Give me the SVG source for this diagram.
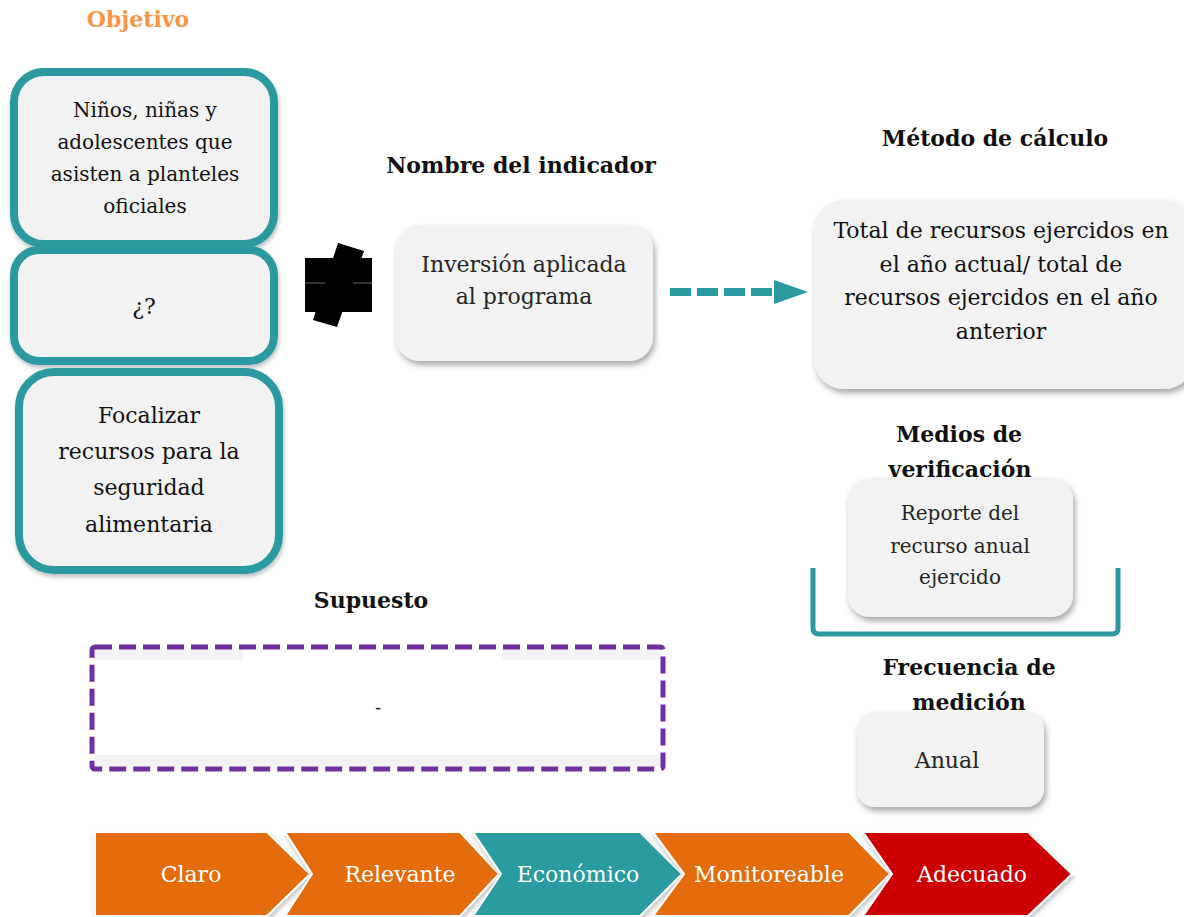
<svg xmlns="http://www.w3.org/2000/svg" width="1184" height="917" viewBox="0 0 1184 917">
<defs>
<filter id="sh" x="-10%" y="-10%" width="130%" height="140%">
<feDropShadow dx="2" dy="4" stdDeviation="3" flood-color="#000" flood-opacity="0.35"/>
</filter>
<filter id="sh2" x="-10%" y="-10%" width="130%" height="140%">
<feDropShadow dx="1" dy="3" stdDeviation="2" flood-color="#000" flood-opacity="0.25"/>
</filter>
<marker id="ah" markerWidth="5" markerHeight="4" refX="0" refY="2" orient="auto" markerUnits="strokeWidth">
<path d="M0,0 L5,2 L0,4 Z" fill="#2B9AA0"/>
</marker>
</defs>
<style>
.t{font-family:"DejaVu Serif",serif;text-anchor:middle;fill:#111;}
.h{font-family:"DejaVu Serif",serif;font-weight:bold;text-anchor:middle;fill:#111;font-size:22px;}
.obj{fill:#F2F2F2;stroke:#2B9AA0;stroke-width:8;}
.gb{fill:#F2F2F2;}
.cv{font-family:"DejaVu Serif",serif;text-anchor:middle;fill:#fff;font-size:22px;}
.chev{stroke:#fff;stroke-width:2;}
</style>
<rect width="1184" height="917" fill="#fff"/>

<g id="titulo-objetivo"><text class="h" x="138" y="27" style="fill:#F79646">Objetivo</text></g>

<g id="objetivo-1">
<rect class="obj" x="14" y="72" width="260" height="172" rx="30" filter="url(#sh2)"/>
<text class="t" font-size="20"><tspan x="145" y="117">Niños, niñas y</tspan><tspan x="145" y="149">adolescentes que</tspan><tspan x="145" y="181">asisten a planteles</tspan><tspan x="145" y="213">oficiales</tspan></text>
</g>
<g id="objetivo-2">
<rect class="obj" x="14" y="250" width="260" height="111" rx="25" filter="url(#sh2)"/>
<text class="t" font-size="22" x="144" y="314">¿?</text>
</g>
<g id="objetivo-3">
<rect class="obj" x="19" y="372" width="260" height="198" rx="35" filter="url(#sh2)"/>
<text class="t" font-size="22"><tspan x="149" y="423">Focalizar</tspan><tspan x="149" y="459">recursos para la</tspan><tspan x="149" y="495">seguridad</tspan><tspan x="149" y="532">alimentaria</tspan></text>
</g>

<g id="mancha">
<rect x="305" y="258" width="67" height="54" fill="#000"/>
<polygon points="338,243 364,251 337,327 313,320" fill="#000"/>
<line x1="305" y1="283" x2="325" y2="283" stroke="#666" stroke-width="1"/>
<line x1="353" y1="283" x2="372" y2="283" stroke="#666" stroke-width="1"/>
</g>

<g id="nombre-indicador">
<text class="h" x="521" y="173">Nombre del indicador</text>
<rect class="gb" x="396" y="225" width="257" height="136" rx="24" filter="url(#sh)"/>
<text class="t" font-size="22" style="fill:#262626"><tspan x="524" y="272">Inversión aplicada</tspan><tspan x="524" y="304">al programa</tspan></text>
</g>

<g id="conectores">
<line x1="670" y1="292" x2="776" y2="292" stroke="#2B9AA0" stroke-width="8" stroke-dasharray="21,6"/>
<polygon points="774,280 808,292 774,304" fill="#2B9AA0"/>
</g>

<g id="metodo-calculo">
<text class="h" x="995" y="146">Método de cálculo</text>
<rect class="gb" x="814" y="200" width="380" height="189" rx="30" filter="url(#sh)"/>
<text class="t" font-size="22"><tspan x="1001" y="238">Total de recursos ejercidos en</tspan><tspan x="1001" y="272">el año actual/ total de</tspan><tspan x="1001" y="305">recursos ejercidos en el año</tspan><tspan x="1001" y="339">anterior</tspan></text>
</g>

<g id="medios-verificacion">
<path d="M813,568 L813,628 Q813,634 819,634 L1112,634 Q1118,634 1118,628 L1118,568" fill="none" stroke="#2B9AA0" stroke-width="5"/>
<text class="h"><tspan x="959" y="442">Medios de</tspan><tspan x="960" y="477">verificación</tspan></text>
<rect class="gb" x="848" y="478" width="225" height="139" rx="22" filter="url(#sh)"/>
<text class="t" font-size="20" style="fill:#262626"><tspan x="960" y="520">Reporte del</tspan><tspan x="960" y="553">recurso anual</tspan><tspan x="960" y="584">ejercido</tspan></text>
</g>

<g id="supuesto">
<text class="h" x="371" y="608">Supuesto</text>
<rect x="93" y="649" width="150" height="11" fill="#F2F2F2"/>
<rect x="502" y="649" width="160" height="11" fill="#F2F2F2"/>
<rect x="95" y="755" width="566" height="11" fill="#F2F2F2"/>
<rect x="92" y="647" width="571" height="122" rx="3" fill="none" stroke="#7030A0" stroke-width="5" stroke-dasharray="17,7"/>
<text class="t" font-size="18" x="378" y="714">-</text>
</g>

<g id="frecuencia-medicion">
<text class="h"><tspan x="969" y="675">Frecuencia de</tspan><tspan x="969" y="710">medición</tspan></text>
<rect class="gb" x="857" y="712" width="187" height="95" rx="18" filter="url(#sh)"/>
<text class="t" font-size="22" x="947" y="768" style="fill:#262626">Anual</text>
</g>

<g id="criterios">
<g id="claro"><polygon class="chev" points="95,832 267,832 310,874 267,916 95,916" fill="#E46C0A" filter="url(#sh2)"/><text class="cv" x="191" y="882">Claro</text></g>
<g id="relevante"><polygon class="chev" points="285,832 460,832 499,874 460,916 285,916 312,874" fill="#E46C0A" filter="url(#sh2)"/><text class="cv" x="400" y="882">Relevante</text></g>
<g id="economico"><polygon class="chev" points="473,832 640,832 682,874 640,916 473,916 501,874" fill="#2A9BA0" filter="url(#sh2)"/><text class="cv" x="578" y="882">Económico</text></g>
<g id="monitoreable"><polygon class="chev" points="653,832 849,832 890,874 849,916 653,916 684,874" fill="#E46C0A" filter="url(#sh2)"/><text class="cv" x="769" y="882">Monitoreable</text></g>
<g id="adecuado"><polygon class="chev" points="863,832 1028,832 1072,874 1028,916 863,916 892,874" fill="#CC0000" filter="url(#sh2)"/><text class="cv" x="972" y="882">Adecuado</text></g>
</g>
</svg>
